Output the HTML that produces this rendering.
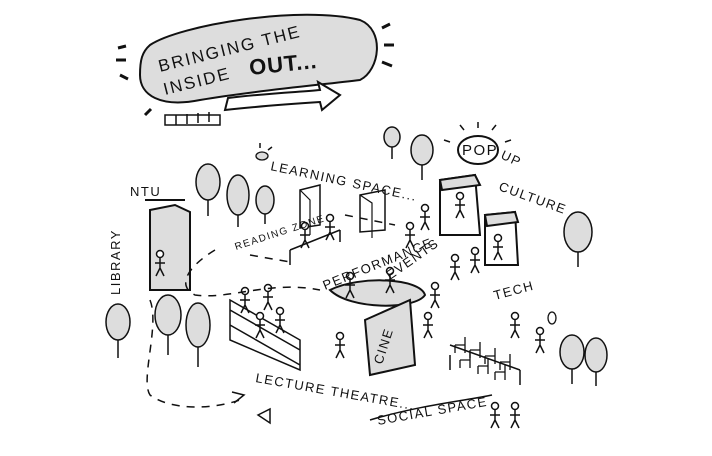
<!DOCTYPE html>
<html><head><meta charset="utf-8"><style>
html,body{margin:0;padding:0;background:#fff;}
svg{display:block}
text{font-family:"Liberation Sans",sans-serif;fill:#111;}
</style></head><body>
<svg width="712" height="456" viewBox="0 0 712 456" xmlns="http://www.w3.org/2000/svg" stroke="#111" stroke-width="2" fill="none">
<defs>
<g id="p" stroke-width="1.5"><circle cx="0" cy="-14" r="3.5" fill="#fff"/><path d="M0,-10 v10 M-5,-5 h10 M0,0 l-4,8 M0,0 l4,8"/></g>
<g id="c" stroke-width="1.3"><path d="M0,0 h10 v-8 M0,0 v8 M10,0 v8"/></g>
</defs>
<!-- title bubble -->
<path d="M150,45 C180,25 300,5 360,20 C385,30 380,70 360,80 C320,85 260,90 200,100 C160,108 140,95 140,75 C140,60 142,52 150,45 Z" fill="#ddd"/>
<g stroke="none">
<text x="160" y="72" font-size="17" transform="rotate(-14 160 72)" letter-spacing="2">BRINGING THE</text>
<text x="165" y="95" font-size="17" transform="rotate(-14 165 95)" letter-spacing="2">INSIDE</text>
<text x="250" y="75" font-size="22" font-weight="bold" transform="rotate(-6 250 75)" letter-spacing="1">OUT...</text>
</g>
<path d="M225,110 L228,98 C270,93 300,92 320,90 L318,82 L340,95 L322,110 L320,102 C290,104 260,106 225,110 Z" fill="#fff"/>
<path d="M165,125 h55 v-10 h-55 z M176,115 v10 M187,114 v10 M198,113 v10 M209,112 v10" stroke-width="1.5"/>
<path d="M118,48 l8,-2 M116,60 l10,0 M120,75 l8,4 M145,115 l6,-6 M382,28 l8,-4 M384,45 h10 M382,62 l10,4" stroke-width="3"/>
<!-- sun rays near pop -->
<path d="M478,128 v-6 M492,130 l4,-5 M464,130 l-4,-5 M505,142 l6,-2 M450,142 l-6,-2 M260,148 l0,-5 M268,150 l4,-3" stroke-width="1.5"/>
<ellipse cx="262" cy="156" rx="6" ry="4" fill="#ddd" stroke-width="1.3"/>
<!-- trees -->
<g fill="#ddd" stroke-width="1.5">
<ellipse cx="392" cy="137" rx="8" ry="10"/><ellipse cx="422" cy="150" rx="11" ry="15"/>
<ellipse cx="208" cy="182" rx="12" ry="18"/><ellipse cx="238" cy="195" rx="11" ry="20"/><ellipse cx="265" cy="200" rx="9" ry="14"/>
<ellipse cx="578" cy="232" rx="14" ry="20"/><ellipse cx="118" cy="322" rx="12" ry="18"/>
<ellipse cx="168" cy="315" rx="13" ry="20"/><ellipse cx="198" cy="325" rx="12" ry="22"/>
<ellipse cx="572" cy="352" rx="12" ry="17"/><ellipse cx="596" cy="355" rx="11" ry="17"/>
</g>
<path d="M392,147 v12 M422,165 v15 M208,200 v16 M238,215 v12 M265,214 v10 M578,252 v15 M118,340 v18 M168,335 v20 M198,347 v20 M572,369 v15 M596,372 v14" stroke-width="1.5"/>
<!-- library -->
<path d="M150,210 L175,205 L190,212 L190,290 L150,290 Z" fill="#ddd"/>
<path d="M145,200 h40" />
<use href="#p" x="160" y="268"/>
<!-- pop-up -->
<path d="M440,180 L475,175 L480,235 L440,235 Z M485,215 L515,212 L518,265 L485,265 Z" fill="#fff"/>
<path d="M440,180 L475,175 L480,185 L442,190 Z" fill="#ddd"/>
<path d="M485,215 L515,212 L518,222 L487,226 Z" fill="#ddd"/>
<ellipse cx="478" cy="150" rx="20" ry="14"/>
<use href="#p" x="460" y="210"/><use href="#p" x="498" y="252"/><use href="#p" x="425" y="222"/>
<!-- stage and stands -->
<path d="M330,290 C360,275 420,278 425,295 C415,310 350,310 330,290 Z" fill="#ddd"/>
<path d="M365,320 L410,300 L415,365 L370,375 Z" fill="#ddd"/>
<use href="#p" x="350" y="290"/><use href="#p" x="390" y="285"/><use href="#p" x="435" y="300"/>
<use href="#p" x="410" y="240"/><use href="#p" x="455" y="272"/><use href="#p" x="475" y="265"/>
<use href="#p" x="340" y="350"/><use href="#p" x="428" y="330"/>
<path d="M230,300 L300,340 L300,370 L230,340 Z M230,310 l70,40 M230,325 l70,40" stroke-width="1.5"/>
<use href="#p" x="245" y="305"/><use href="#p" x="268" y="302"/><use href="#p" x="280" y="325"/><use href="#p" x="260" y="330"/>
<path d="M300,190 L320,185 L320,225 L300,228 Z M360,195 L385,190 L385,230 L360,232 Z" fill="#fff" stroke-width="1.5"/>
<path d="M300,190 l10,10 v35 M360,195 l12,8 v35" stroke-width="1.2"/>
<path d="M290,250 L340,230 M290,250 v15 M340,230 v12" stroke-width="1.5"/>
<use href="#p" x="305" y="240"/><use href="#p" x="330" y="232"/>
<path d="M450,345 L520,370 M450,355 v15 M520,370 v15" stroke-width="1.5"/>
<use href="#c" x="455" y="345"/><use href="#c" x="470" y="350"/><use href="#c" x="485" y="356"/><use href="#c" x="500" y="362"/>
<use href="#c" x="460" y="360"/><use href="#c" x="478" y="366"/><use href="#c" x="495" y="372"/>
<use href="#p" x="515" y="330"/><use href="#p" x="540" y="345"/>
<ellipse cx="552" cy="318" rx="4" ry="6" stroke-width="1.3"/>
<use href="#p" x="495" y="420"/><use href="#p" x="515" y="420"/>
<!-- dashed paths -->
<g stroke-dasharray="8 7" stroke-width="1.5">
<path d="M150,300 C160,325 140,380 150,395 C170,410 210,410 240,400"/>
<path d="M215,250 C190,265 175,285 195,295 C230,300 270,280 320,290"/>
<path d="M250,255 L290,262"/>
<path d="M345,215 L395,225"/>
</g>
<path d="M232,392 l12,3 l-10,8" stroke-width="1.5"/>
<!-- labels -->
<g stroke="none" font-size="13" letter-spacing="1.5">
<text x="130" y="196">NTU</text>
<text x="120" y="295" transform="rotate(-90 120 295)">LIBRARY</text>
<text x="270" y="170" transform="rotate(12 270 170)">LEARNING SPACE...</text>
<text x="236" y="250" font-size="10" transform="rotate(-18 236 250)">READING ZONE</text>
<text x="325" y="290" transform="rotate(-22 325 290)">PERFORMANCE</text>
<text x="390" y="280" transform="rotate(-35 390 280)">EVENTS</text>
<text x="462" y="155" font-size="15">POP</text>
<text x="500" y="158" transform="rotate(25 500 158)">UP</text>
<text x="498" y="190" transform="rotate(20 498 190)">CULTURE</text>
<text x="495" y="300" transform="rotate(-15 495 300)">TECH</text>
<text x="382" y="365" transform="rotate(-72 382 365)">CINE</text>
<text x="255" y="382" transform="rotate(10 255 382)">LECTURE THEATRE...</text>
<text x="378" y="425" transform="rotate(-10 378 425)">SOCIAL SPACE</text>
</g>
<path d="M370,420 C420,405 470,400 492,395" stroke-width="1.5"/>
<path d="M258,415 l12,-6 v14 z" fill="#fff" stroke-width="1.5"/>
</svg>
</body></html>
